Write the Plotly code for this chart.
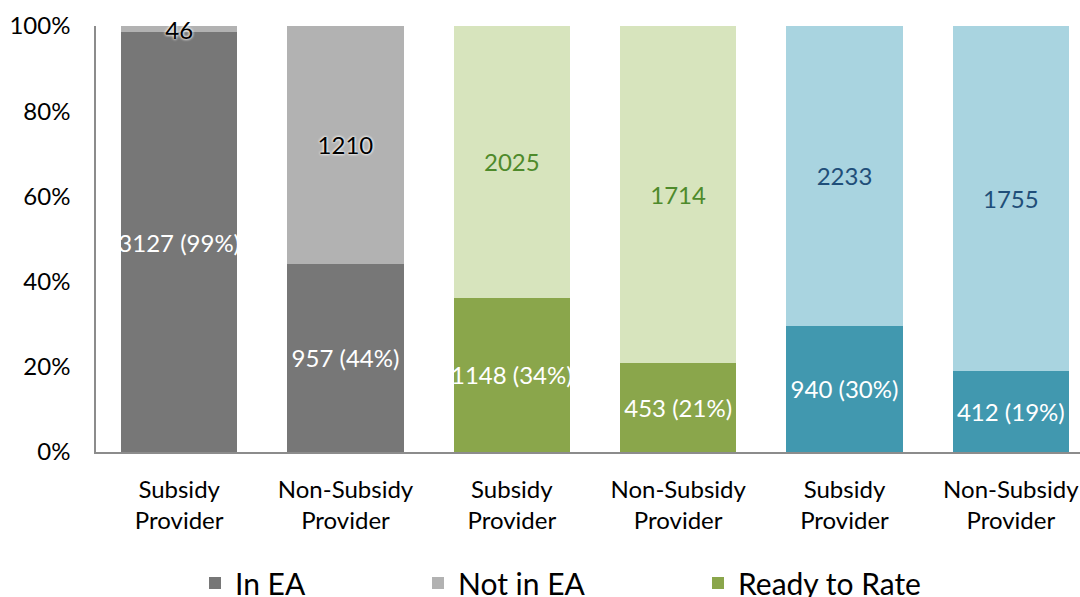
import plotly.graph_objects as go

categories = ["Subsidy Provider", "Non-Subsidy Provider",
              "Subsidy Provider", "Non-Subsidy Provider",
              "Subsidy Provider", "Non-Subsidy Provider"]

# group 1: EA
in_ea = [3127, 957]
not_in_ea = [46, 1210]
in_ea_pct = [99, 44]
# group 2: rating readiness
ready = [1148, 453]
not_ready = [2025, 1714]
ready_pct = [34, 21]
# group 3: rated
rated = [940, 412]
not_rated = [2233, 1755]
rated_pct = [30, 19]

y_ticks = [0, 20, 40, 60, 80, 100]

FONT = "Lato"
FS = 24

fig = go.Figure()

def add(name, xs, vals, color, textcolor, texts, legend, shadow=None):
    tf = dict(family=FONT, size=FS, color=textcolor)
    if shadow:
        tf["shadow"] = shadow
    fig.add_trace(go.Bar(
        name=name, x=xs, y=vals, marker=dict(color=color, line=dict(width=0)),
        text=texts, textposition="inside", insidetextanchor="middle",
        textangle=0, textfont=tf, cliponaxis=False, legend=legend,
        showlegend=True, hoverinfo="skip"))

pos = list(range(len(categories)))
add("In EA", pos[0:2], in_ea, "#777777", "white",
    [f"{v} ({p}%)" for v, p in zip(in_ea, in_ea_pct)], "legend")
add("Not in EA", pos[0:2], not_in_ea, "#b2b2b2", "black",
    [str(v) for v in not_in_ea], "legend2",
    shadow="0px 0px 3px white, 0px 0px 3px white")
add("Ready to Rate", pos[2:4], ready, "#8aa64b", "white",
    [f"{v} ({p}%)" for v, p in zip(ready, ready_pct)], "legend3")
add("Not Ready to Rate", pos[2:4], not_ready, "#d7e4bd", "#4e8a2b",
    [str(v) for v in not_ready], "legend4")
add("Rated", pos[4:6], rated, "#4198af", "white",
    [f"{v} ({p}%)" for v, p in zip(rated, rated_pct)], "legend5")
add("Not Rated", pos[4:6], not_rated, "#a9d4e0", "#1f4e79",
    [str(v) for v in not_rated], "legend6")

W, H = 1080, 597
PLOT_TOP, PLOT_BOTTOM = 26, 452
PLOT_H = PLOT_BOTTOM - PLOT_TOP
leg_font = dict(family=FONT, size=30, color="black")

def leg(xpx, ypx):
    return dict(x=xpx / W, y=(PLOT_BOTTOM - ypx) / PLOT_H,
                xref="container", yref="paper",
                xanchor="left", yanchor="middle", orientation="h",
                font=leg_font, bgcolor="rgba(0,0,0,0)", borderwidth=0)

fig.update_layout(
    width=W, height=H, showlegend=True,
    barmode="stack", barnorm="percent", bargap=0.3,
    plot_bgcolor="white", paper_bgcolor="white",
    margin=dict(l=96, r=0, t=PLOT_TOP, b=H - PLOT_BOTTOM, autoexpand=False),
    font=dict(family=FONT, size=FS, color="black"),
    uniformtext=dict(minsize=FS, mode="show"),
    legend=leg(195, 583), legend2=leg(418, 583), legend3=leg(698, 583),
    legend4=leg(195, 680), legend5=leg(500, 680), legend6=leg(800, 680),
    xaxis=dict(tickmode="array", tickvals=pos,
               ticktext=[c.replace(" ", "<br>", 1) if c.startswith("Subsidy") else c.replace(" ", "<br>") for c in categories],
               range=[-0.5, 5.416], showline=True, linecolor="#8c8c8c", linewidth=1.5,
               showgrid=False, zeroline=False, ticks="", ticklabelstandoff=15,
               tickfont=dict(family=FONT, size=FS, color="black")),
    yaxis=dict(range=[0, 100], tickmode="array", tickvals=y_ticks,
               ticktext=[f"{v}%" for v in y_ticks],
               showline=True, linecolor="#8c8c8c", linewidth=1.5,
               showgrid=False, zeroline=False, ticks="", ticklabelstandoff=19,
               tickfont=dict(family=FONT, size=FS, color="black")),
)

fig.write_html("out.html", config={"displayModeBar": False},
               post_script="document.body.style.margin='0';document.body.style.overflow='hidden';")
